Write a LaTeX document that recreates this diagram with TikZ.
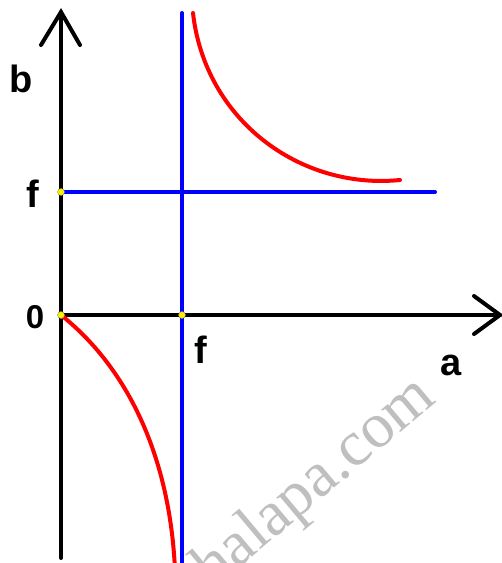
\documentclass[tikz,border=0pt]{standalone}
\usepackage{fontspec}
\setmainfont{Liberation Sans}
\newfontfamily\wmfont{Liberation Serif}
\begin{document}
\begin{tikzpicture}[x=1pt,y=-1pt,
  axis/.style={line width=4pt,black,line cap=round},
  bluel/.style={line width=4pt,blue,line cap=round},
  redl/.style={line width=4pt,red,line cap=round},
  dot/.style={circle,fill=yellow,draw=black!50,line width=0.4pt,inner sep=0pt,minimum size=7pt},
  lbl/.style={font=\fontsize{38}{38}\selectfont\bfseries,inner sep=0pt,anchor=base},
  wm/.style={font=\wmfont\fontsize{64}{64}\selectfont,text=black!25,inner sep=0pt,anchor=base east,rotate=40}]
\useasboundingbox (0,0) rectangle (502,563);
\clip (0,0) rectangle (502,563);
% watermark
\node[wm] (wm) at (438,401) {halapa.com};
% coordinates
\coordinate (O) at (61,315);
\coordinate (ytop) at (61,12);
\coordinate (ybot) at (61,558);
\coordinate (xend) at (500,315);
\coordinate (yl) at (41,45);
\coordinate (yr) at (80,45);
\coordinate (xu) at (474,296);
\coordinate (xd) at (474,334);
\coordinate (ft) at (182,13);
\coordinate (fb) at (182,570);
\coordinate (fl) at (61,192);
\coordinate (fr) at (435,192);
\coordinate (fx) at (182,315);
% axes
\draw[axis] (ybot) -- (ytop);
\draw[axis] (O) -- (xend);
\draw[axis,line join=miter] (yl) -- (ytop) -- (yr);
\draw[axis,line join=miter] (xu) -- (xend) -- (xd);
% blue lines
\draw[bluel] (fb) -- (ft);
\draw[bluel] (fl) -- (fr);
% red curves
\coordinate (u0) at (193,13);
\coordinate (u3) at (400,180);
\draw[redl] (u0) .. controls (205,120) and (300,190) .. (u3);
\coordinate (l3) at (175,570);
\draw[redl] (O) .. controls (130,370) and (170,460) .. (l3);
% dots
\node[dot] (d1) at (fl) {};
\node[dot] (d2) at (O) {};
\node[dot] (d3) at (fx) {};
% labels
\node[lbl] (b) at (21,92) {b};
\node[lbl] (f1) at (33,207) {f};
\node[lbl,font=\fontsize{33}{33}\selectfont\bfseries] (zero) at (35,328) {0};
\node[lbl] (f2) at (201,363) {f};
\node[lbl] (a) at (451,375) {a};
\end{tikzpicture}
\end{document}
